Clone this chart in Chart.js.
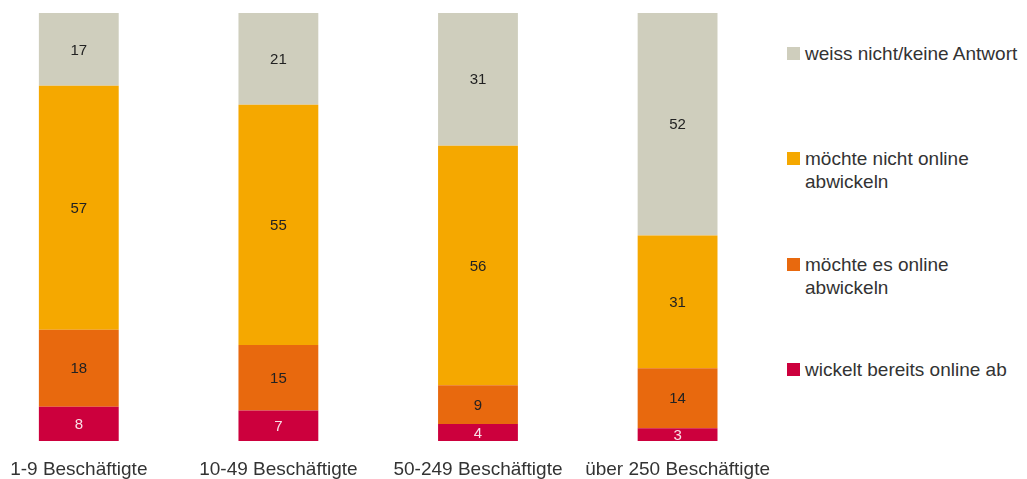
<!DOCTYPE html>
<html>
<head>
<meta charset="utf-8">
<script src="https://cdn.jsdelivr.net/npm/chart.js@4/dist/chart.umd.min.js"></script>
<style>
  html, body { margin: 0; padding: 0; background: #fff; overflow: hidden; }
  body { width: 1027px; height: 479px; position: relative; font-family: "Liberation Sans", Arial, sans-serif; }
  #wrap { position: absolute; left: -21px; top: 0; width: 808px; height: 479px; }
  #legend { position: absolute; left: 787px; top: 42px; width: 236px; }
  .item { height: 105.3px; display: flex; align-items: flex-start; }
  .sw { width: 13px; height: 13px; margin-top: 5px; margin-right: 5px; flex: 0 0 13px; }
  .txt { font-size: 19px; line-height: 23px; color: #333; }
</style>
</head>
<body>
<div id="wrap"><canvas id="c" width="808" height="479"></canvas></div>
<div id="legend"></div>
<script>
const categories = ["1-9 Beschäftigte", "10-49 Beschäftigte", "50-249 Beschäftigte", "über 250 Beschäftigte"];
const seriesNames = ["wickelt bereits online ab", "möchte es online abwickeln", "möchte nicht online abwickeln", "weiss nicht/keine Antwort"];
const wickeltBereits = [8, 7, 4, 3];
const moechteEs = [18, 15, 9, 14];
const moechteNicht = [57, 55, 56, 31];
const weissNicht = [17, 21, 31, 52];
const colors = ["#CC003D", "#E8690E", "#F5A800", "#CFCEBD"];
const labelColors = ["rgba(255,255,255,0.88)", "#222", "#222", "#222"];

const series = [wickeltBereits, moechteEs, moechteNicht, weissNicht];
const totals = categories.map((_, i) => series.reduce((s, arr) => s + arr[i], 0));

const datasets = series.map((arr, k) => ({
  label: seriesNames[k],
  raw: arr,
  data: arr.map((v, i) => v / totals[i] * 100),
  backgroundColor: colors[k],
  borderWidth: 0,
  barPercentage: 0.4,
  categoryPercentage: 1.0
}));

const valueLabels = {
  id: 'valueLabels',
  afterDatasetsDraw(chart) {
    const ctx = chart.ctx;
    ctx.save();
    ctx.font = '15px "Liberation Sans", Arial, sans-serif';
    ctx.textAlign = 'center';
    ctx.textBaseline = 'middle';
    chart.data.datasets.forEach((ds, k) => {
      const meta = chart.getDatasetMeta(k);
      meta.data.forEach((bar, i) => {
        const y = (bar.y + bar.base) / 2;
        ctx.fillStyle = labelColors[k];
        ctx.fillText(String(ds.raw[i]), bar.x, y + 1);
      });
    });
    ctx.restore();
  }
};

new Chart(document.getElementById('c'), {
  type: 'bar',
  data: { labels: categories, datasets },
  options: {
    responsive: false,
    animation: false,
    layout: { padding: { top: 13, bottom: 0, left: 0, right: 0 } },
    plugins: { legend: { display: false }, tooltip: { enabled: false } },
    scales: {
      x: {
        stacked: true,
        grid: { display: false, drawTicks: false },
        border: { display: false },
        ticks: { color: '#333', font: { family: '"Liberation Sans", Arial, sans-serif', size: 19 }, padding: 17, maxRotation: 0, autoSkip: false },
        afterFit(scale) { scale.height = 38; }
      },
      y: { stacked: true, min: 0, max: 100, display: false }
    }
  },
  plugins: [valueLabels]
});

const legend = document.getElementById('legend');
for (let k = series.length - 1; k >= 0; k--) {
  const item = document.createElement('div');
  item.className = 'item';
  const sw = document.createElement('div');
  sw.className = 'sw';
  sw.style.background = colors[k];
  const t = document.createElement('div');
  t.className = 'txt';
  t.textContent = seriesNames[k];
  item.appendChild(sw); item.appendChild(t);
  legend.appendChild(item);
}
</script>
</body>
</html>
